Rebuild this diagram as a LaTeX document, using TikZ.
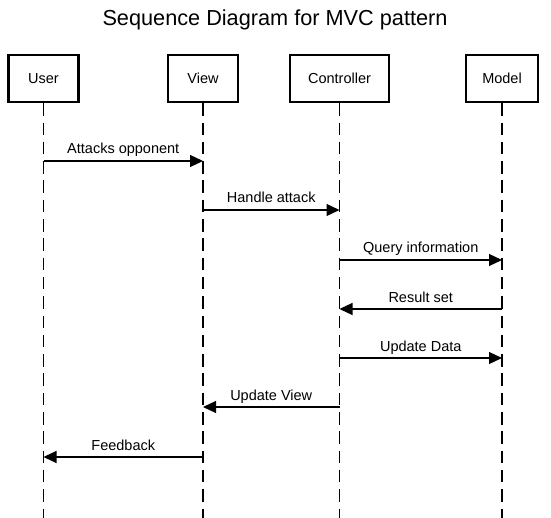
\documentclass[tikz,border=0pt]{standalone}
\usepackage{fontspec}
\setmainfont{Liberation Sans}
\usetikzlibrary{arrows.meta}
\begin{document}
\begin{tikzpicture}[x=1pt,y=-1pt,
  actor/.style={draw, line width=2.5pt, minimum height=47pt, inner sep=0pt, font=\fontsize{14.5}{17}\selectfont},
  lifeline/.style={line width=1.2pt, dash pattern=on 12.5pt off 6.8pt},
  msg/.style={line width=1.2pt, -{Triangle[length=13pt,width=12pt]}},
  msglabel/.style={anchor=base, yshift=7pt, inner sep=0pt, font=\fontsize{14.5}{17}\selectfont}]
\useasboundingbox (0,0) rectangle (551,518);
\node[anchor=base, font=\fontsize{21.7}{26}\selectfont] (title) at (275,26) {Sequence Diagram for MVC pattern};

\node[actor, minimum width=70pt] (user) at (43.5,78.5) {User};
\node[actor, minimum width=70pt] (view) at (203,78.5) {View};
\node[actor, minimum width=99pt] (ctrl) at (339.5,78.5) {Controller};
\node[actor, minimum width=72pt] (model) at (502,78.5) {Model};

\coordinate (uend) at (43.5,518);
\coordinate (vend) at (203,518);
\coordinate (cend) at (339.5,518);
\coordinate (mend) at (502,518);
\draw[lifeline] (user.south) -- (uend);
\draw[lifeline] (view.south) -- (vend);
\draw[lifeline] (ctrl.south) -- (cend);
\draw[lifeline] (model.south) -- (mend);

\coordinate (u1) at (43.5,161);  \coordinate (v1) at (203,161);
\coordinate (v2) at (203,210);   \coordinate (c2) at (339.5,210);
\coordinate (c3) at (339.5,260); \coordinate (m3) at (502,260);
\coordinate (m4) at (502,309);   \coordinate (c4) at (339.5,309);
\coordinate (c5) at (339.5,358); \coordinate (m5) at (502,358);
\coordinate (c6) at (339.5,407); \coordinate (v6) at (203,407);
\coordinate (v7) at (203,457);   \coordinate (u7) at (43.5,457);

\draw[msg] (u1) -- node[msglabel] {Attacks opponent} (v1);
\draw[msg] (v2) -- node[msglabel] {Handle attack} (c2);
\draw[msg] (c3) -- node[msglabel] {Query information} (m3);
\draw[msg] (m4) -- node[msglabel] {Result set} (c4);
\draw[msg] (c5) -- node[msglabel] {Update Data} (m5);
\draw[msg] (c6) -- node[msglabel] {Update View} (v6);
\draw[msg] (v7) -- node[msglabel] {Feedback} (u7);
\end{tikzpicture}
\end{document}
